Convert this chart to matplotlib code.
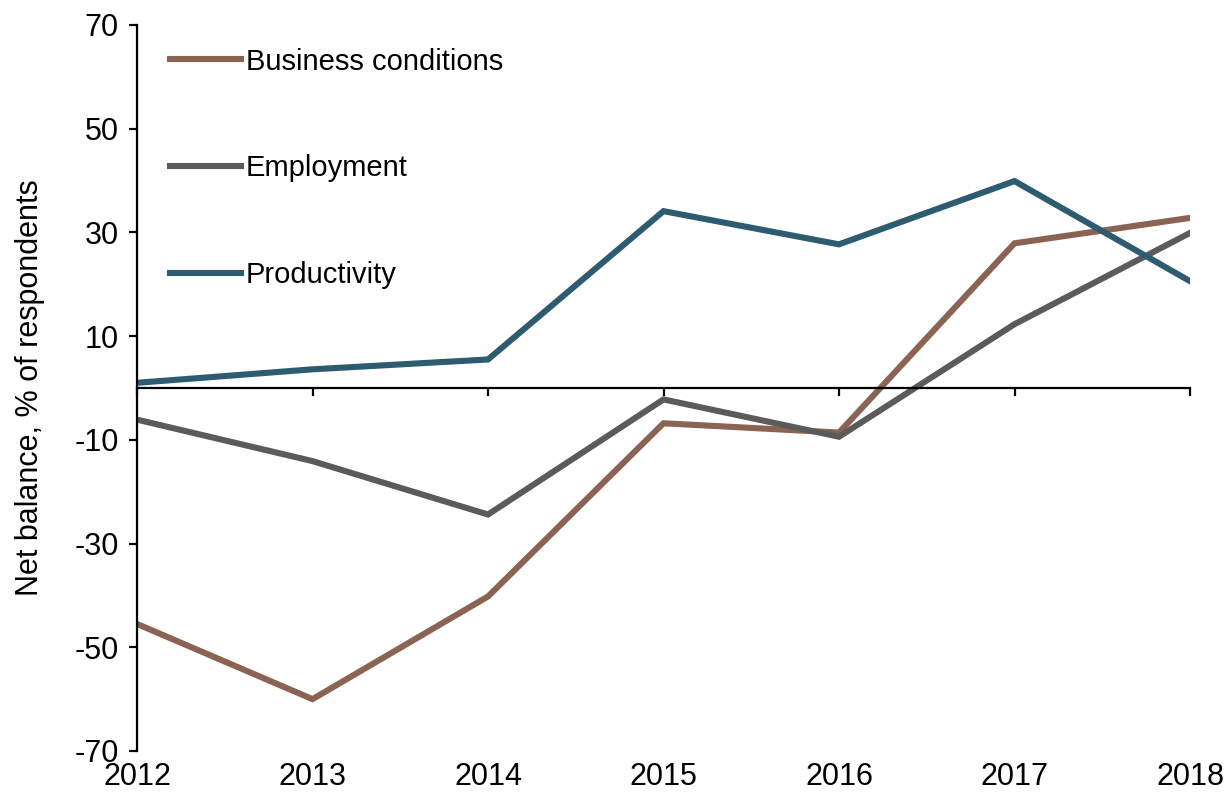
import matplotlib
matplotlib.use("Agg")
import matplotlib.pyplot as plt

plt.rcParams["font.family"] = ["Liberation Sans", "DejaVu Sans"]
plt.rcParams["axes.unicode_minus"] = False

years = [2012, 2013, 2014, 2015, 2016, 2017, 2018]
business = [-45.5, -60.0, -40.2, -6.8, -8.6, 27.9, 32.8]
employment = [-6.1, -14.1, -24.4, -2.2, -9.4, 12.3, 29.9]
productivity = [1.0, 3.6, 5.5, 34.1, 27.7, 39.9, 20.6]

series_names = ["Business conditions", "Employment", "Productivity"]
series_colors = ["#8A6352", "#5B5B5B", "#2D5B70"]
y_ticks = [-70, -50, -30, -10, 10, 30, 50, 70]

fig = plt.figure(figsize=(12.31, 7.98), dpi=100)
ax = fig.add_axes([0.1113, 0.0589, 0.8554, 0.9098])

for vals, name, col in zip([business, employment, productivity], series_names, series_colors):
    ax.plot(years, vals, color=col, lw=4.4, label=name, solid_joinstyle="miter")

ax.set_xlim(years[0], years[-1])
ax.set_ylim(-70, 70)
ax.set_yticks(y_ticks)
ax.set_xticks(years)
ax.set_xticklabels([])

for s in ["top", "right"]:
    ax.spines[s].set_visible(False)
ax.spines["bottom"].set_position(("data", 0))
ax.spines["left"].set_linewidth(1.6)
ax.spines["bottom"].set_linewidth(1.6)
ax.tick_params(axis="both", direction="out", length=6, width=1.6, colors="black")
ax.tick_params(axis="y", labelsize=22, pad=7)

# year labels sit along the bottom edge while the axis line crosses at zero
sec = ax.secondary_xaxis("bottom")
sec.set_xticks(years)
sec.set_xticklabels([str(y) for y in years])
sec.spines["bottom"].set_visible(False)
sec.tick_params(axis="x", length=0, labelsize=22, pad=8)

ax.set_ylabel("Net balance, % of respondents", fontsize=22)
ax.yaxis.set_label_coords(-0.087, 0.5)

ax.legend(loc="upper left", bbox_to_anchor=(0.02, 0.985), frameon=False,
          fontsize=21, handlelength=2.45, handletextpad=0.15,
          labelspacing=2.7, borderaxespad=0)

fig.savefig("out.png", dpi=100)
